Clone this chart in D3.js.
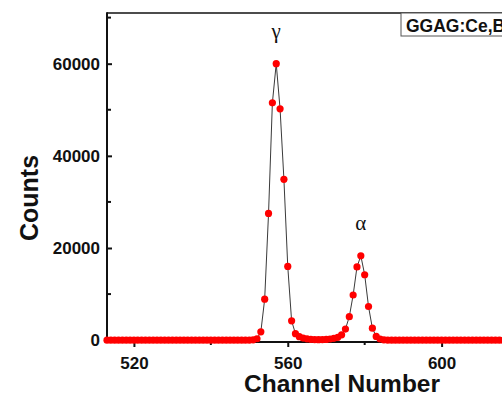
<!DOCTYPE html>
<html>
<head>
<meta charset="utf-8">
<script src="https://cdn.jsdelivr.net/npm/d3@7"></script>
<style>
  body { margin: 0; background: #fff; overflow: hidden; }
  svg { display: block; }
  .tick text { font-family: Arial, "Liberation Sans", sans-serif; font-weight: bold; font-size: 17px; fill: #111; }
</style>
</head>
<body>
<div class="chart"></div>
<script>
// channel of the first point, one point per channel after it
var firstChannel = 513;
var counts = [
  0, 0, 0, 0, 0, 0, 0, 0, 0, 0,            // 513-522
  0, 0, 0, 0, 0, 0, 0, 0, 0, 0,            // 523-532
  0, 0, 0, 0, 0, 0, 0, 0, 0, 0,            // 533-542
  0, 0, 0, 0, 0, 0, 0, 20, 80,             // 543-551
  300, 1800, 8900, 27500, 51500, 60000, 50200, 34900, 16000, 4200,   // 552-561
  1400, 750, 450, 280, 180, 130, 110, 120, 160, 250,                 // 562-571
  400, 620, 1150, 2400, 5100, 9800, 15900, 18300, 14200, 7300,       // 572-581
  2600, 800, 250, 80, 20, 0, 0, 0, 0, 0,                             // 582-591
  0, 0, 0, 0, 0, 0, 0, 0, 0, 0,            // 592-601
  0, 0, 0, 0, 0, 0, 0, 0, 0, 0,            // 602-611
  0, 0, 0, 0, 0, 0, 0, 0, 0, 0             // 612-621
];
var xTicks = [520, 560, 600];
var xMinor = [540, 580, 620];
var yTicks = [0, 20000, 40000, 60000];
var yMinor = [10000, 30000, 50000, 70000];
var peakLabels = [{text: 'γ', channel: 557, counts: 60000}, {text: 'α', channel: 579, counts: 18300}];
var legendText = 'GGAG:Ce,B';

var width = 502, height = 396;
var margin = {top: 13, left: 107, bottom: 55};
var plotBottom = height - margin.bottom + 1;

var points = counts.map(function (c, i) { return {channel: firstChannel + i, value: c}; });

var xScale = d3.scaleLinear()
  .domain([513, 630])
  .range([margin.left, margin.left + 117 * 3.846]);

var yScale = d3.scaleLinear()
  .domain([-400, 71000])
  .range([plotBottom, margin.top]);

var svg = d3.select('.chart')
  .append('svg')
  .attr('width', width)
  .attr('height', height);

// frame top line
svg.append('line')
  .attr('x1', margin.left).attr('x2', width + 10)
  .attr('y1', margin.top).attr('y2', margin.top)
  .attr('stroke', '#111').attr('stroke-width', 1.5);

// line under the dots
var line = d3.line()
  .x(function (d) { return xScale(d.channel); })
  .y(function (d) { return yScale(d.value); });

svg.append('path')
  .datum(points)
  .attr('d', line)
  .attr('fill', 'none')
  .attr('stroke', '#3a3a3a')
  .attr('stroke-width', 1);

// x axis, ticks pointing down
var xAxis = d3.axisBottom(xScale).tickValues(xTicks).tickSize(5).tickPadding(10).tickFormat(d3.format('d'));
var gx = svg.append('g')
  .attr('transform', 'translate(0,' + plotBottom + ')')
  .call(xAxis);
gx.select('.domain').remove();
gx.selectAll('.tick line').attr('stroke', '#111').attr('stroke-width', 2);
svg.append('g')
  .attr('transform', 'translate(0,' + plotBottom + ')')
  .selectAll('line').data(xMinor).enter().append('line')
  .attr('x1', function (d) { return xScale(d); }).attr('x2', function (d) { return xScale(d); })
  .attr('y1', 0).attr('y2', 3)
  .attr('stroke', '#111').attr('stroke-width', 2);

// y axis, ticks pointing into the plot
var yAxis = d3.axisLeft(yScale).tickValues(yTicks).tickSize(-5).tickPadding(7).tickFormat(d3.format('d'));
var gy = svg.append('g')
  .attr('transform', 'translate(' + margin.left + ',0)')
  .call(yAxis);
gy.select('.domain').remove();
gy.selectAll('.tick line').attr('stroke', '#111').attr('stroke-width', 2);
gy.selectAll('.tick text').attr('x', -7);
svg.append('g')
  .attr('transform', 'translate(' + margin.left + ',0)')
  .selectAll('line').data(yMinor).enter().append('line')
  .attr('y1', function (d) { return yScale(d); }).attr('y2', function (d) { return yScale(d); })
  .attr('x1', 0).attr('x2', 4)
  .attr('stroke', '#111').attr('stroke-width', 2);

// axis lines
svg.append('line')
  .attr('x1', margin.left).attr('x2', width + 10)
  .attr('y1', plotBottom).attr('y2', plotBottom)
  .attr('stroke', '#111').attr('stroke-width', 2);
svg.append('line')
  .attr('x1', margin.left).attr('x2', margin.left)
  .attr('y1', margin.top - 0.75).attr('y2', plotBottom + 1)
  .attr('stroke', '#111').attr('stroke-width', 2);

// dots
svg.append('g')
  .selectAll('circle')
  .data(points)
  .enter().append('circle')
  .attr('cx', function (d) { return xScale(d.channel); })
  .attr('cy', function (d) { return yScale(d.value); })
  .attr('r', 3.6)
  .attr('fill', '#f00');

// peak labels
svg.selectAll('.peak')
  .data(peakLabels)
  .enter().append('text')
  .attr('class', 'peak')
  .attr('x', function (d) { return xScale(d.channel); })
  .attr('y', function (d) { return yScale(d.counts) - 26; })
  .attr('text-anchor', 'middle')
  .style('font-family', '"Liberation Serif", "Times New Roman", serif')
  .style('font-size', '21px')
  .style('fill', '#111')
  .text(function (d) { return d.text; });

// legend box
svg.append('rect')
  .attr('x', 401).attr('y', margin.top)
  .attr('width', 120).attr('height', 23)
  .attr('fill', '#fff')
  .attr('stroke', '#555').attr('stroke-width', 1);
svg.append('text')
  .attr('x', 406).attr('y', 32)
  .style('font-family', 'Arial, "Liberation Sans", sans-serif')
  .style('font-weight', 'bold')
  .style('font-size', '17.5px')
  .style('fill', '#111')
  .text(legendText);

// axis titles
svg.append('text')
  .attr('x', 342).attr('y', 392)
  .attr('text-anchor', 'middle')
  .style('font-family', 'Arial, "Liberation Sans", sans-serif')
  .style('font-weight', 'bold')
  .style('font-size', '24.5px')
  .style('fill', '#111')
  .text('Channel Number');
svg.append('text')
  .attr('transform', 'translate(38,198) rotate(-90)')
  .attr('text-anchor', 'middle')
  .style('font-family', 'Arial, "Liberation Sans", sans-serif')
  .style('font-weight', 'bold')
  .style('font-size', '25px')
  .style('fill', '#111')
  .text('Counts');
</script>
</body>
</html>
